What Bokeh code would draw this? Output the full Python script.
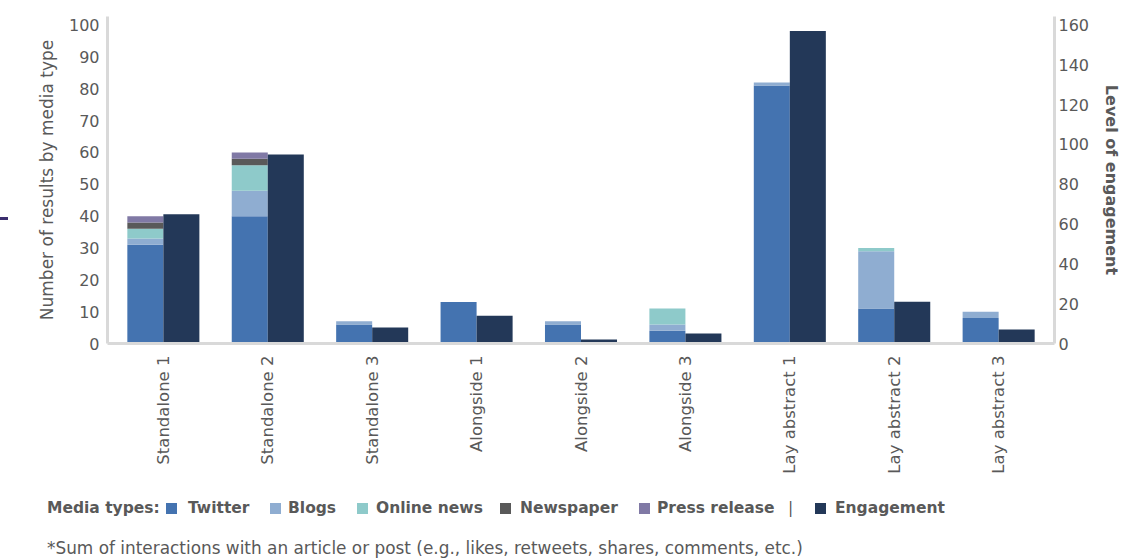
import math
from bokeh.plotting import figure
from bokeh.models import FactorRange, Range1d, LinearAxis, FixedTicker, Div, ColumnDataSource
from bokeh.transform import dodge
from bokeh.layouts import column, row
from bokeh.embed import file_html
from bokeh.resources import INLINE

# Media coverage counts and engagement per article format
categories = ["Standalone 1", "Standalone 2", "Standalone 3",
              "Alongside 1", "Alongside 2", "Alongside 3",
              "Lay abstract 1", "Lay abstract 2", "Lay abstract 3"]
twitter = [31, 40, 6, 13, 6, 4, 81, 11, 8]
blogs = [2, 8, 1, 0, 1, 2, 1, 18, 2]
online_news = [3, 8, 0, 0, 0, 5, 0, 1, 0]
newspaper = [2, 2, 0, 0, 0, 0, 0, 0, 0]
press_release = [2, 2, 0, 0, 0, 0, 0, 0, 0]
engagement = [65, 95, 8, 14, 2, 5, 157, 21, 7]

media_types = ["Twitter", "Blogs", "Online news", "Newspaper", "Press release"]
media_colors = ["#4473b0", "#8fadd1", "#8ecaca", "#595959", "#8079a5"]
eng_color = "#233858"
left_ticks = list(range(0, 101, 10))
right_ticks = list(range(0, 161, 20))

FONT = "DejaVu Sans"
GREY = "#595959"
AXIS_LINE = "#d9d9d9"

source = ColumnDataSource(dict(
    cat=categories,
    Twitter=twitter,
    Blogs=blogs,
    **{"Online news": online_news},
    Newspaper=newspaper,
    **{"Press release": press_release},
    engagement=engagement,
))

x_range = FactorRange(factors=categories, range_padding=0.035, range_padding_units="absolute")
p = figure(x_range=x_range, y_range=Range1d(0, 102.7),
           width=1118, height=480, output_backend="svg", toolbar_location=None,
           min_border_left=98, min_border_right=73, min_border_top=16, min_border_bottom=137,
           outline_line_color=None, background_fill_color="white", border_fill_color="white")
p.extra_y_ranges = {"eng": Range1d(0, 164.3)}

bw = 0.345
p.vbar_stack(media_types, x=dodge("cat", -bw / 2, range=p.x_range), width=bw,
             color=media_colors, line_color=None, source=source)
p.vbar(x=dodge("cat", bw / 2, range=p.x_range), top="engagement", width=bw,
       color=eng_color, line_color=None, y_range_name="eng", source=source)

p.xgrid.visible = False
p.ygrid.visible = False

right_axis = LinearAxis(y_range_name="eng", axis_label="Level of engagement")
p.add_layout(right_axis, "right")

p.yaxis[0].axis_label = "Number of results by media type"
p.yaxis[0].ticker = FixedTicker(ticks=left_ticks)
right_axis.ticker = FixedTicker(ticks=right_ticks)

for ax in [p.xaxis[0], p.yaxis[0], right_axis]:
    ax.axis_line_color = AXIS_LINE
    ax.axis_line_width = 3
    ax.major_tick_line_color = None
    ax.minor_tick_line_color = None
    ax.major_tick_out = 0
    ax.minor_tick_out = 0
    ax.major_label_text_font = FONT
    ax.major_label_text_font_size = "16px"
    ax.major_label_text_color = GREY
    ax.axis_label_text_font = FONT
    ax.axis_label_text_font_size = "16px"
    ax.axis_label_text_color = GREY
    ax.axis_label_text_font_style = "normal"

p.yaxis[0].axis_label_text_font_size = "17px"
p.yaxis[0].major_label_standoff = 8
p.yaxis[0].axis_label_standoff = 9
right_axis.major_label_standoff = 4
right_axis.axis_label_standoff = 10
right_axis.axis_label_text_font_style = "bold"
p.xaxis[0].major_label_text_font_size = "16.5px"
p.xaxis[0].major_label_orientation = math.pi / 2
p.xaxis[0].major_label_standoff = 12

# small accent mark at the far left
accent = Div(text='<div style="margin-top:217px;width:8px;height:3px;background:#3b2e6e"></div>',
             width=9, height=480, margin=0)

# legend and footnote
def sq(x, c):
    return (f'<div style="position:absolute;left:{x}px;top:23px;width:11px;height:11px;'
            f'background:{c}"></div>')

def txt(x, t, bold=True):
    w = "bold" if bold else "normal"
    return (f'<div style="position:absolute;left:{x}px;top:19px;font-weight:{w};'
            f'font-size:15.5px;white-space:nowrap">{t}</div>')

legend_parts = [txt(47, "Media types:")]
sq_x = [166, 270, 357, 500, 639]
tx_x = [188, 288, 376, 520, 657]
for sx, tx, c, t in zip(sq_x, tx_x, media_colors, media_types):
    legend_parts.append(sq(sx, c))
    legend_parts.append(txt(tx, t))
legend_parts.append(txt(788, "|", bold=False))
legend_parts.append(sq(815, eng_color))
legend_parts.append(txt(835, "Engagement"))
legend_parts.append(
    '<div style="position:absolute;left:47px;top:59px;white-space:nowrap;font-size:16.9px">'
    '*Sum of interactions with an article or post (e.g., likes, retweets, shares, comments, etc.)</div>')

footer = Div(
    text=(f'<div style="position:relative;width:1127px;height:80px;font-family:\'{FONT}\';'
          f'color:{GREY};line-height:18px">' + "".join(legend_parts) + '</div>'),
    width=1127, height=80, margin=0)

layout = column(row(accent, p, spacing=0), footer, spacing=0)

open("out.html", "w").write(file_html(layout, INLINE))
